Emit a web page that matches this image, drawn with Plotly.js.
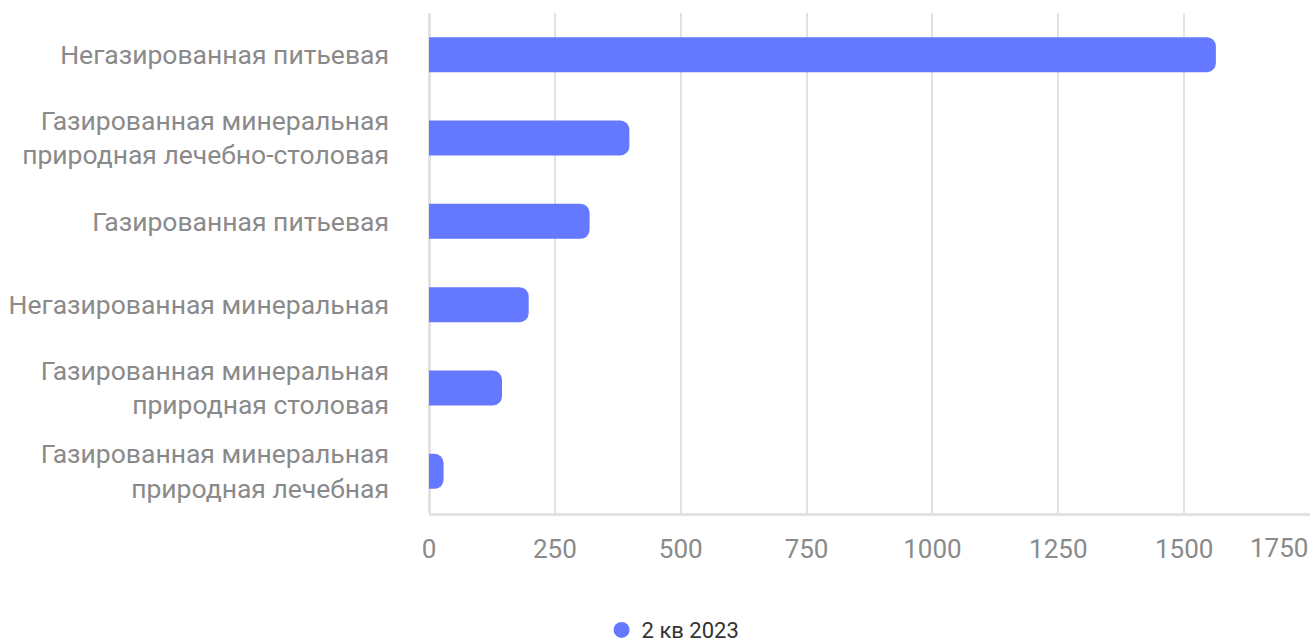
<!DOCTYPE html>
<html>
<head>
<meta charset="utf-8">
<script src="https://cdn.plot.ly/plotly-3.0.1.min.js"></script>
<style>html,body{margin:0;padding:0;background:#fff;}#chart{width:1312px;height:641px;}</style>
</head>
<body>
<div id="chart"></div>
<script>
var categories = [
  "Негазированная питьевая",
  "Газированная минеральная<br>природная лечебно-столовая",
  "Газированная питьевая",
  "Негазированная минеральная",
  "Газированная минеральная<br>природная столовая",
  "Газированная минеральная<br>природная лечебная"
];
var values = [1563, 398, 319, 198, 145, 29];
var seriesName = "2 кв 2023";
var tickVals = [0, 250, 500, 750, 1000, 1250, 1500, 1750];
var tickText = ["0", "250", "500", "750", "1000", "1250", "1500", "1750"];

var barColor = "#6479ff";
var labelColor = "#8a8a8a";

var traces = [
  {
    type: "bar",
    orientation: "h",
    y: categories,
    x: values,
    marker: {color: barColor},
    showlegend: false,
    hoverinfo: "x+y"
  },
  {
    type: "scatter",
    mode: "markers",
    x: [null],
    y: [null],
    name: seriesName,
    marker: {color: barColor, size: 20, symbol: "circle"},
    showlegend: true
  }
];

var lastTick = tickVals.length - 1;

var layout = {
  width: 1312,
  height: 641,
  margin: {l: 429, r: 2, t: 13, b: 128, pad: 0},
  paper_bgcolor: "#ffffff",
  plot_bgcolor: "#ffffff",
  font: {family: "Roboto, sans-serif", color: labelColor},
  bargap: 0.58,
  barcornerradius: 9,
  showlegend: true,
  legend: {
    orientation: "h",
    xref: "container",
    yref: "container",
    x: 0.513,
    xanchor: "center",
    y: 0.017,
    yanchor: "middle",
    font: {family: "Roboto, sans-serif", size: 22, color: "#333333"},
    itemwidth: 30
  },
  xaxis: {
    range: [0, 1750],
    tickvals: tickVals.slice(0, lastTick),
    ticktext: tickText.slice(0, lastTick),
    showgrid: true,
    gridcolor: "#e2e2e2",
    gridwidth: 2,
    zeroline: true,
    zerolinecolor: "#e2e2e2",
    zerolinewidth: 3,
    showline: true,
    linecolor: "#e2e2e2",
    linewidth: 3,
    ticks: "",
    ticklabelstandoff: 11,
    tickfont: {family: "Roboto, sans-serif", size: 26, color: labelColor},
    fixedrange: true
  },
  yaxis: {
    autorange: "reversed",
    type: "category",
    showgrid: false,
    zeroline: false,
    showline: false,
    ticks: "",
    ticklabelstandoff: 39,
    tickfont: {family: "Roboto, sans-serif", size: 26.5, color: labelColor},
    fixedrange: true
  },
  annotations: [
    {
      xref: "x",
      yref: "paper",
      x: tickVals[lastTick],
      y: 0,
      yshift: -35,
      xanchor: "right",
      yanchor: "middle",
      text: tickText[lastTick],
      showarrow: false,
      font: {family: "Roboto, sans-serif", size: 26, color: labelColor}
    }
  ]
};

Plotly.newPlot("chart", traces, layout, {displayModeBar: false, staticPlot: true});
</script>
</body>
</html>
